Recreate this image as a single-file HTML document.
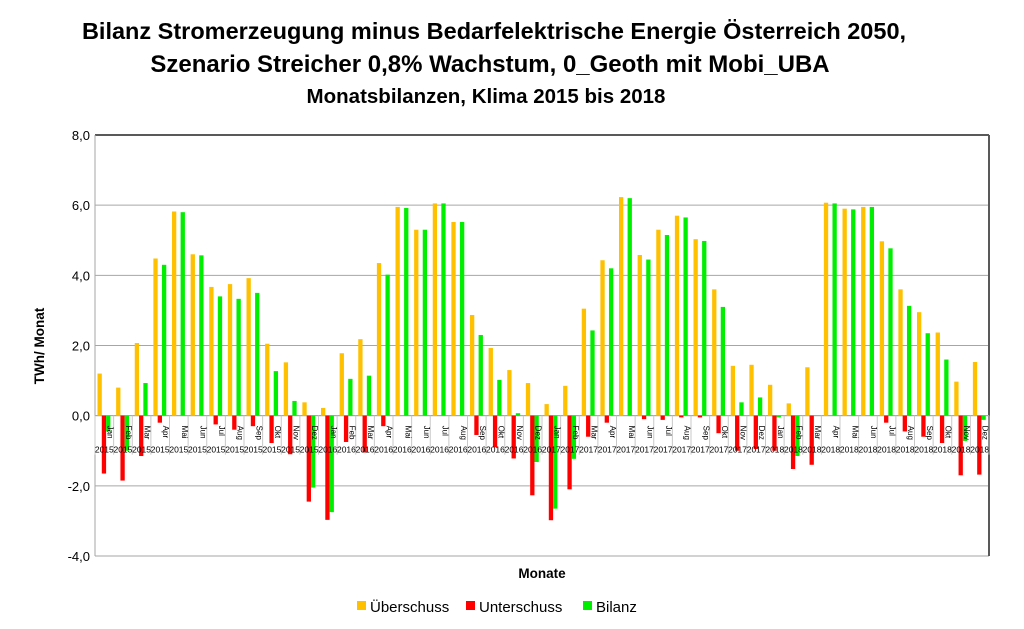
<!DOCTYPE html>
<html><head><meta charset="utf-8"><style>
body{margin:0;background:#fff;font-family:"Liberation Sans",sans-serif}
svg{display:block}
</style></head><body>
<svg id="c" width="1024" height="629" xmlns="http://www.w3.org/2000/svg">
<text x="494" y="39" text-anchor="middle" font-size="23.5" font-weight="bold" font-family="Liberation Sans, sans-serif">Bilanz Stromerzeugung minus Bedarfelektrische Energie Österreich 2050,</text>
<text x="490" y="72" text-anchor="middle" font-size="24" font-weight="bold" font-family="Liberation Sans, sans-serif">Szenario Streicher 0,8% Wachstum, 0_Geoth mit Mobi_UBA</text>
<text x="486" y="103" text-anchor="middle" font-size="20.5" font-weight="bold" font-family="Liberation Sans, sans-serif">Monatsbilanzen, Klima 2015 bis 2018</text>
<g id="grid"></g>
<g id="bars"></g>
<g id="cats"></g>
<text x="0" y="0" transform="translate(44,346) rotate(-90)" text-anchor="middle" font-size="13.5" font-weight="bold">TWh/ Monat</text>
<text x="542" y="578" text-anchor="middle" font-size="13.5" font-weight="bold">Monate</text>
<g font-size="15">
<rect x="357" y="601" width="9" height="9" fill="#ffc000"/>
<text x="370" y="612">Überschuss</text>
<rect x="466" y="601" width="9" height="9" fill="#ff0000"/>
<text x="479" y="612">Unterschuss</text>
<rect x="583" y="601" width="9" height="9" fill="#00ee00"/>
<text x="596" y="612">Bilanz</text>
</g>
</svg>
<script>
const months=["Jan","Feb","Mar","Apr","Mai","Jun","Jul","Aug","Sep","Okt","Nov","Dez"];
const years=["2015","2016","2017","2018"];
const ueberschuss=[1.2,0.8,2.07,4.48,5.82,4.6,3.67,3.75,3.92,2.05,1.52,0.38,
0.22,1.78,2.18,4.35,5.95,5.3,6.05,5.52,2.87,1.93,1.3,0.93,
0.33,0.85,3.05,4.43,6.23,4.58,5.3,5.7,5.03,3.6,1.42,1.45,
0.88,0.35,1.38,6.07,5.9,5.95,4.97,3.6,2.95,2.37,0.97,1.53];
const unterschuss=[-1.65,-1.85,-1.15,-0.2,0,0,-0.25,-0.4,-0.3,-0.78,-1.1,-2.45,
-2.97,-0.75,-1.05,-0.3,0,0,0,0,-0.55,-0.9,-1.22,-2.27,
-2.98,-2.1,-0.6,-0.2,0,-0.1,-0.12,-0.05,-0.05,-0.5,-1.0,-0.95,
-1.0,-1.52,-1.4,0,0,0,-0.2,-0.45,-0.6,-0.78,-1.7,-1.68];
const bilanz=[-0.45,-1.0,0.93,4.3,5.8,4.57,3.4,3.33,3.5,1.27,0.42,-2.05,
-2.75,1.05,1.14,4.02,5.92,5.3,6.05,5.52,2.3,1.02,0.07,-1.32,
-2.65,-1.23,2.43,4.2,6.2,4.45,5.15,5.65,4.98,3.1,0.38,0.52,
-0.05,-1.15,0,6.05,5.88,5.95,4.77,3.13,2.35,1.6,-0.72,-0.12];
const yTicks=[-4,-2,0,2,4,6,8];
const yLabels=["-4,0","-2,0","0,0","2,0","4,0","6,0","8,0"];
const L=95,R=989,T=135,B=556,ymin=-4,ymax=8;
const ns="http://www.w3.org/2000/svg";
function y(v){return B-(v-ymin)/(ymax-ymin)*(B-T);}
const n=ueberschuss.length,slot=(R-L)/n;
function x(i){return L+i*slot;}
function mk(t,a,p){const e=document.createElementNS(ns,t);for(const k in a)e.setAttribute(k,a[k]);p.appendChild(e);return e;}
const grid=document.getElementById('grid'),bars=document.getElementById('bars'),cats=document.getElementById('cats');
yTicks.forEach((v,i)=>{
 const ln=mk('line',{x1:L,x2:R,y1:y(v),y2:y(v),stroke:v==8?'#595959':'#a6a6a6','stroke-width':v==8?2:1},grid);
 
 
 const t=mk('text',{x:L-5,y:y(v)+5,'text-anchor':'end','font-size':13},grid);
 t.textContent=yLabels[i];
 
 
});
const ax=mk('line',{x1:L,x2:L,y1:T,y2:B,stroke:'#a6a6a6'},grid);


const ra=mk('line',{x1:R,x2:R,y1:T,y2:B,stroke:'#595959','stroke-width':2},grid);


const bw=4.3;
const series=[[ueberschuss,'#ffc000',2.5,'bar-ueberschuss'],[unterschuss,'#ff0000',6.8,'bar-unterschuss'],[bilanz,'#00ee00',11.1,'bar-bilanz']];
for(let i=0;i<n;i++){
 series.forEach(s=>{
  const v=s[0][i];const y0=y(0),y1=y(v);
  const r=mk('rect',{x:x(i)+s[2],y:Math.min(y0,y1),width:bw,height:Math.max(Math.abs(y1-y0),0),fill:s[1]},bars);
  
  
 });
}
const zl=mk('line',{x1:L,x2:R,y1:y(0),y2:y(0),stroke:'#a6a6a6'},grid);


for(let i=0;i<=n;i++){
 const s=mk('line',{x1:x(i),x2:x(i),y1:y(0),y2:y(0)+39,stroke:'#c8c8c8'},cats);
 
 
}
for(let i=0;i<n;i++){
 const cx=x(i)+slot/2;
 const m=mk('text',{transform:`translate(${cx+3},${y(0)+10}) rotate(90)`,'font-size':8,'text-anchor':'start'},cats);
 m.textContent=months[i%12];
 
 
 const t=mk('text',{x:cx,y:y(0)+37,'font-size':8.5,'text-anchor':'middle'},cats);
 t.textContent=years[Math.floor(i/12)];
 
 
}
</script>
</body></html>
